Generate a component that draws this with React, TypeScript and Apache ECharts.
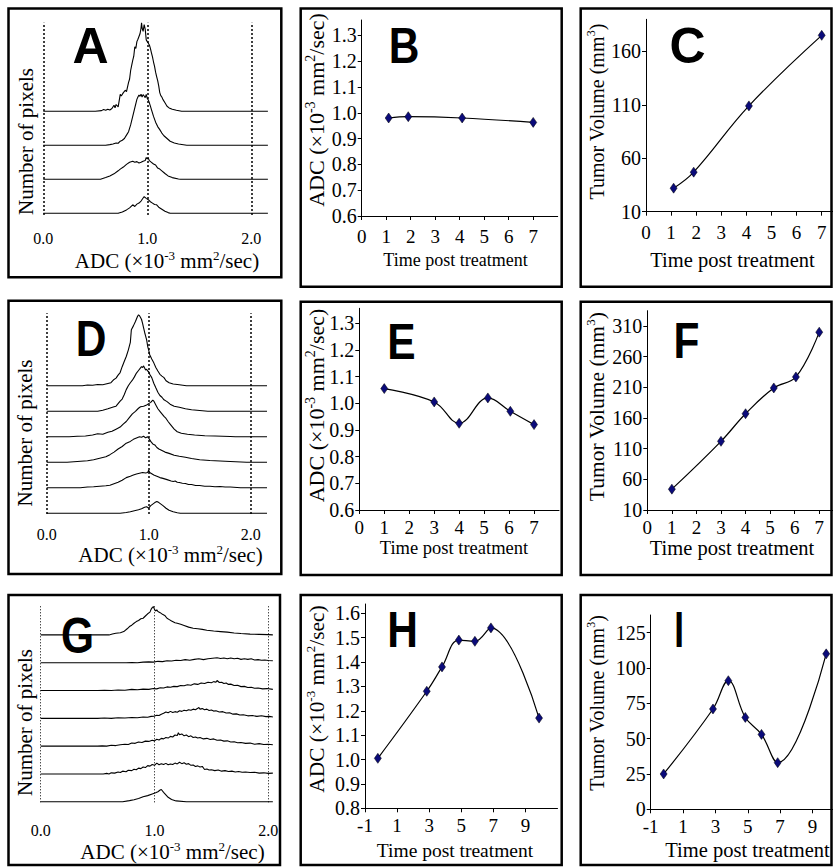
import React, { useEffect, useRef } from 'react';
import * as echarts from 'echarts';

const FONT = 'Liberation Serif';

// ---------- Histogram traces (x = ADC, h = relative pixel count), listed bottom → top ----------
const traceA1 = [[0,0],[0.72,0],[0.76,0.04],[0.8,0.1],[0.83,0.16],[0.86,0.25],[0.88,0.2],[0.9,0.27],[0.92,0.3],[0.94,0.36],[0.96,0.45],[0.97,0.49],[0.99,0.44],[1.01,0.4],[1.03,0.34],[1.05,0.3],[1.07,0.26],[1.09,0.25],[1.11,0.18],[1.14,0.12],[1.17,0.06],[1.2,0.02],[1.22,0],[2.16,0]];
const traceA2 = [[0,0],[0.55,0],[0.6,0.05],[0.64,0.1],[0.68,0.16],[0.72,0.25],[0.74,0.3],[0.77,0.36],[0.8,0.44],[0.83,0.5],[0.86,0.53],[0.88,0.5],[0.9,0.52],[0.92,0.48],[0.94,0.5],[0.96,0.53],[0.98,0.55],[0.99,0.64],[1.0,0.6],[1.01,0.62],[1.02,0.55],[1.04,0.5],[1.06,0.45],[1.08,0.42],[1.1,0.33],[1.12,0.3],[1.14,0.25],[1.17,0.17],[1.2,0.1],[1.24,0.05],[1.3,0.01],[1.32,0],[2.16,0]];
const traceA3 = [[0,0],[0.6,0],[0.64,0.02],[0.67,0.04],[0.7,0.07],[0.72,0.06],[0.74,0.12],[0.76,0.15],[0.78,0.2],[0.8,0.3],[0.82,0.4],[0.84,0.6],[0.86,0.85],[0.88,1.1],[0.9,1.35],[0.91,1.42],[0.92,1.48],[0.93,1.44],[0.94,1.5],[0.95,1.42],[0.96,1.49],[0.97,1.45],[0.98,1.4],[0.99,1.5],[1.0,1.38],[1.01,1.33],[1.02,1.25],[1.03,1.15],[1.04,1.05],[1.06,0.85],[1.08,0.68],[1.1,0.55],[1.12,0.46],[1.14,0.36],[1.16,0.28],[1.19,0.2],[1.22,0.12],[1.26,0.07],[1.3,0.04],[1.38,0],[2.16,0]];
const traceA4 = [[0,0],[0.5,0],[0.56,0.02],[0.58,0.05],[0.6,0.03],[0.62,0.06],[0.64,0.04],[0.66,0.08],[0.68,0.18],[0.69,0.1],[0.7,0.2],[0.72,0.13],[0.74,0.5],[0.75,0.45],[0.77,0.55],[0.79,0.62],[0.8,0.58],[0.82,0.85],[0.83,0.95],[0.84,1.2],[0.85,1.35],[0.86,1.5],[0.87,1.62],[0.88,1.9],[0.89,1.85],[0.9,2.05],[0.91,2.12],[0.92,2.2],[0.93,2.28],[0.94,2.45],[0.945,2.6],[0.95,2.45],[0.96,2.35],[0.97,2.55],[0.98,2.42],[0.99,2.1],[1.0,2.05],[1.01,2.0],[1.02,1.95],[1.03,1.85],[1.04,1.72],[1.05,1.6],[1.06,1.45],[1.07,1.32],[1.08,1.15],[1.09,1.02],[1.1,0.9],[1.11,0.75],[1.12,0.55],[1.13,0.46],[1.14,0.42],[1.15,0.35],[1.17,0.25],[1.19,0.15],[1.21,0.1],[1.24,0.06],[1.28,0.03],[1.33,0],[2.16,0]];

const traceD1 = [[0,0],[0.72,0],[0.78,0.03],[0.82,0.06],[0.86,0.1],[0.9,0.14],[0.93,0.18],[0.96,0.24],[0.98,0.26],[1.0,0.2],[1.02,0.3],[1.04,0.36],[1.06,0.42],[1.08,0.46],[1.1,0.42],[1.12,0.36],[1.14,0.3],[1.17,0.2],[1.2,0.12],[1.24,0.06],[1.28,0.02],[1.31,0],[2.16,0]];
const traceD2 = [[0,0],[0.33,0],[0.4,0.03],[0.46,0.04],[0.52,0.06],[0.58,0.08],[0.62,0.1],[0.66,0.16],[0.7,0.22],[0.74,0.3],[0.78,0.4],[0.82,0.45],[0.85,0.5],[0.88,0.54],[0.91,0.57],[0.94,0.6],[0.97,0.58],[0.99,0.6],[1.0,0.69],[1.01,0.6],[1.03,0.55],[1.05,0.5],[1.08,0.45],[1.11,0.4],[1.14,0.37],[1.18,0.32],[1.22,0.27],[1.24,0.25],[1.26,0.27],[1.28,0.22],[1.3,0.21],[1.33,0.18],[1.36,0.17],[1.39,0.13],[1.42,0.13],[1.46,0.09],[1.5,0.09],[1.55,0.06],[1.6,0.06],[1.65,0.04],[1.7,0.05],[1.75,0.03],[1.8,0.03],[1.9,0],[2.16,0]];
const traceD3 = [[0,0],[0.2,0],[0.3,0.03],[0.4,0.06],[0.46,0.1],[0.52,0.16],[0.58,0.22],[0.62,0.3],[0.66,0.4],[0.7,0.52],[0.74,0.62],[0.78,0.75],[0.82,0.82],[0.85,0.9],[0.88,0.95],[0.91,1.0],[0.93,0.98],[0.95,1.02],[0.97,0.96],[0.99,1.0],[1.0,0.95],[1.02,0.82],[1.04,0.72],[1.06,0.68],[1.08,0.58],[1.1,0.52],[1.13,0.46],[1.16,0.4],[1.2,0.35],[1.25,0.28],[1.3,0.24],[1.36,0.2],[1.42,0.15],[1.5,0.1],[1.6,0.07],[1.7,0.05],[1.8,0.03],[1.96,0],[2.16,0]];
const traceD4 = [[0,0],[0.22,0],[0.3,0.02],[0.38,0.03],[0.45,0.07],[0.5,0.12],[0.55,0.1],[0.6,0.18],[0.64,0.22],[0.68,0.3],[0.72,0.38],[0.75,0.5],[0.78,0.6],[0.81,0.75],[0.84,0.9],[0.87,1.0],[0.9,1.12],[0.92,1.18],[0.95,1.2],[0.98,1.25],[1.0,1.3],[1.02,1.35],[1.04,1.44],[1.05,1.4],[1.07,1.25],[1.09,1.1],[1.11,1.0],[1.13,0.9],[1.15,0.8],[1.17,0.72],[1.19,0.6],[1.21,0.5],[1.23,0.4],[1.25,0.3],[1.28,0.2],[1.32,0.14],[1.38,0.1],[1.45,0.07],[1.55,0.04],[1.65,0.03],[1.8,0.01],[1.85,0],[2.16,0]];
const traceD5 = [[0,0],[0.5,0],[0.55,0.04],[0.6,0.1],[0.63,0.14],[0.66,0.18],[0.68,0.2],[0.7,0.3],[0.72,0.4],[0.74,0.48],[0.76,0.65],[0.78,0.85],[0.8,1.0],[0.82,1.12],[0.84,1.22],[0.86,1.35],[0.88,1.5],[0.9,1.6],[0.92,1.7],[0.93,1.75],[0.94,1.72],[0.95,1.78],[0.96,1.7],[0.97,1.62],[0.98,1.65],[0.99,1.58],[1.0,1.55],[1.01,1.45],[1.03,1.32],[1.05,1.1],[1.07,0.92],[1.09,0.75],[1.11,0.62],[1.13,0.55],[1.15,0.45],[1.18,0.38],[1.21,0.28],[1.25,0.2],[1.3,0.16],[1.36,0.1],[1.42,0.06],[1.5,0.03],[1.58,0],[2.16,0]];
const traceD6 = [[0,0],[0.35,0],[0.4,0.03],[0.45,0.02],[0.5,0.05],[0.55,0.04],[0.6,0.09],[0.63,0.12],[0.66,0.25],[0.68,0.3],[0.7,0.42],[0.72,0.52],[0.74,0.75],[0.76,0.95],[0.78,1.15],[0.8,1.4],[0.82,1.7],[0.83,2.2],[0.85,2.35],[0.87,2.52],[0.88,2.62],[0.89,2.72],[0.9,2.78],[0.91,2.75],[0.92,2.68],[0.93,2.6],[0.94,2.45],[0.95,2.27],[0.96,2.1],[0.97,1.95],[0.98,1.8],[0.99,1.55],[1.0,1.4],[1.01,1.22],[1.03,1.05],[1.05,0.9],[1.07,0.72],[1.09,0.58],[1.11,0.45],[1.13,0.38],[1.15,0.32],[1.17,0.2],[1.2,0.12],[1.24,0.07],[1.3,0.04],[1.37,0],[2.16,0]];

const traceG1 = [[0,0],[0.72,0],[0.78,0.04],[0.82,0.07],[0.86,0.12],[0.9,0.18],[0.94,0.22],[0.98,0.28],[1.01,0.32],[1.03,0.36],[1.05,0.42],[1.06,0.44],[1.08,0.34],[1.1,0.25],[1.12,0.16],[1.15,0.08],[1.19,0.03],[1.28,0],[2.04,0]];
const traceG2 = [[0,0],[0.55,0],[0.58,0.02],[0.6,0.0],[0.62,0.04],[0.65,0.03],[0.68,0.07],[0.7,0.05],[0.72,0.1],[0.75,0.08],[0.77,0.13],[0.8,0.12],[0.82,0.17],[0.84,0.15],[0.86,0.21],[0.88,0.19],[0.9,0.25],[0.92,0.23],[0.94,0.3],[0.96,0.28],[0.98,0.34],[1.0,0.31],[1.02,0.39],[1.04,0.33],[1.06,0.37],[1.08,0.34],[1.1,0.38],[1.12,0.33],[1.14,0.36],[1.16,0.34],[1.18,0.39],[1.2,0.36],[1.22,0.42],[1.24,0.37],[1.26,0.4],[1.28,0.35],[1.3,0.37],[1.32,0.31],[1.34,0.32],[1.36,0.27],[1.38,0.29],[1.4,0.25],[1.42,0.27],[1.44,0.16],[1.46,0.18],[1.48,0.14],[1.5,0.15],[1.53,0.12],[1.56,0.14],[1.59,0.1],[1.62,0.12],[1.65,0.09],[1.68,0.1],[1.71,0.07],[1.74,0.09],[1.77,0.06],[1.8,0.07],[1.84,0.05],[1.88,0.06],[1.92,0.03],[1.96,0.04],[2.0,0.02],[2.04,0.03]];
const traceG3 = [[0,0],[0.5,0],[0.54,0.01],[0.58,0.0],[0.62,0.03],[0.66,0.02],[0.7,0.05],[0.74,0.07],[0.77,0.06],[0.8,0.11],[0.83,0.1],[0.86,0.15],[0.89,0.13],[0.92,0.18],[0.95,0.17],[0.98,0.21],[1.0,0.19],[1.02,0.25],[1.04,0.22],[1.06,0.28],[1.08,0.26],[1.1,0.31],[1.12,0.29],[1.14,0.35],[1.16,0.33],[1.18,0.4],[1.2,0.38],[1.21,0.48],[1.22,0.41],[1.24,0.44],[1.26,0.37],[1.28,0.4],[1.3,0.34],[1.32,0.37],[1.34,0.31],[1.36,0.33],[1.38,0.29],[1.4,0.31],[1.43,0.26],[1.46,0.28],[1.49,0.24],[1.52,0.26],[1.55,0.21],[1.58,0.22],[1.61,0.18],[1.64,0.19],[1.67,0.15],[1.7,0.16],[1.73,0.12],[1.76,0.13],[1.8,0.1],[1.84,0.11],[1.88,0.07],[1.92,0.09],[1.96,0.06],[2.0,0.07],[2.04,0.05]];
const traceG4 = [[0,0],[0.5,0],[0.56,0.01],[0.62,0.0],[0.68,0.02],[0.74,0.01],[0.8,0.03],[0.85,0.02],[0.9,0.05],[0.94,0.04],[0.97,0.07],[1.0,0.08],[1.02,0.11],[1.04,0.1],[1.06,0.15],[1.08,0.18],[1.1,0.23],[1.12,0.2],[1.14,0.25],[1.16,0.21],[1.18,0.24],[1.2,0.22],[1.22,0.27],[1.24,0.25],[1.26,0.29],[1.28,0.27],[1.3,0.31],[1.32,0.29],[1.34,0.33],[1.36,0.31],[1.38,0.36],[1.39,0.39],[1.4,0.33],[1.42,0.35],[1.44,0.31],[1.46,0.33],[1.48,0.28],[1.5,0.3],[1.52,0.26],[1.54,0.27],[1.57,0.23],[1.6,0.24],[1.63,0.19],[1.66,0.2],[1.69,0.15],[1.72,0.16],[1.75,0.12],[1.78,0.13],[1.82,0.09],[1.86,0.1],[1.9,0.07],[1.94,0.09],[1.98,0.06],[2.01,0.07],[2.04,0.05]];
const traceG5 = [[0,0],[0.5,0],[0.56,0.01],[0.62,0.0],[0.68,0.02],[0.74,0.01],[0.8,0.04],[0.85,0.03],[0.9,0.05],[0.95,0.04],[0.99,0.07],[1.02,0.06],[1.05,0.1],[1.08,0.09],[1.11,0.13],[1.14,0.12],[1.17,0.15],[1.2,0.14],[1.23,0.18],[1.26,0.17],[1.29,0.21],[1.32,0.19],[1.35,0.24],[1.38,0.22],[1.41,0.27],[1.44,0.25],[1.47,0.3],[1.5,0.28],[1.52,0.32],[1.54,0.3],[1.55,0.36],[1.57,0.29],[1.59,0.3],[1.61,0.25],[1.63,0.27],[1.65,0.22],[1.67,0.23],[1.7,0.18],[1.73,0.19],[1.76,0.14],[1.79,0.15],[1.82,0.11],[1.85,0.12],[1.88,0.08],[1.91,0.09],[1.95,0.06],[1.99,0.07],[2.04,0.04]];
const traceG6 = [[0,0],[0.75,0],[0.8,0.01],[0.85,0.0],[0.9,0.02],[0.95,0.03],[0.99,0.02],[1.03,0.05],[1.07,0.04],[1.11,0.07],[1.15,0.06],[1.19,0.09],[1.23,0.08],[1.27,0.11],[1.31,0.09],[1.35,0.12],[1.39,0.14],[1.43,0.11],[1.47,0.14],[1.51,0.16],[1.55,0.18],[1.58,0.15],[1.61,0.17],[1.64,0.14],[1.67,0.17],[1.7,0.14],[1.73,0.16],[1.76,0.12],[1.79,0.14],[1.82,0.12],[1.85,0.14],[1.88,0.1],[1.91,0.11],[1.94,0.09],[1.97,0.1],[2.0,0.08],[2.04,0.07]];
const traceG7 = [[0,0],[0.6,0],[0.63,0.03],[0.66,0.06],[0.7,0.08],[0.73,0.12],[0.76,0.22],[0.78,0.3],[0.8,0.35],[0.82,0.42],[0.84,0.48],[0.86,0.52],[0.88,0.58],[0.9,0.6],[0.92,0.68],[0.94,0.76],[0.96,0.82],[0.97,0.92],[0.98,0.98],[0.99,1.02],[1.0,0.92],[1.01,0.86],[1.02,0.9],[1.03,0.84],[1.05,0.8],[1.07,0.74],[1.09,0.7],[1.11,0.6],[1.13,0.55],[1.15,0.5],[1.18,0.44],[1.2,0.42],[1.23,0.38],[1.26,0.34],[1.3,0.28],[1.34,0.24],[1.38,0.22],[1.42,0.2],[1.46,0.17],[1.52,0.14],[1.58,0.12],[1.64,0.1],[1.7,0.07],[1.76,0.05],[1.84,0.03],[1.92,0.02],[2.0,0.01],[2.04,0]];

const histTicks = [0, 1, 2];

// ---------- Time-course data ----------
const daysBC = [1.1, 1.9, 4.1, 7.0];
const adcB = [0.98, 0.985, 0.98, 0.963];
const volC = [32, 47, 109, 175];

const daysEF = [1, 3, 4, 5.15, 6.05, 7];
const adcE = [1.055, 1.005, 0.925, 1.02, 0.97, 0.92];
const volF = [44, 122, 167, 209, 227, 300];

const daysHI = [-0.2, 2.85, 3.8, 4.85, 5.85, 6.85, 9.85];
const adcH = [1.005, 1.28, 1.38, 1.49, 1.485, 1.54, 1.17];
const volI = [25, 71, 91, 65, 53, 33, 110];

const xTicks07 = [0, 1, 2, 3, 4, 5, 6, 7];
const xTicksOdd = [-1, 1, 3, 5, 7, 9];
const yTicksB = [0.6, 0.7, 0.8, 0.9, 1.0, 1.1, 1.2, 1.3];
const yTicksC = [10, 60, 110, 160];
const yTicksF = [10, 60, 110, 160, 210, 260, 310];
const yTicksH = [0.8, 0.9, 1.0, 1.1, 1.2, 1.3, 1.4, 1.5, 1.6];
const yTicksI = [0, 25, 50, 75, 100, 125];

const ADC_TITLE = '{n|ADC (×10}{s|-3}{n| mm}{s|2}{n|/sec)}';
const VOL_TITLE = '{n|Tumor Volume (mm}{s|3}{n|)}';

function richStyle(fs: number) {
  return {
    n: { fontSize: fs, fontFamily: FONT, fill: '#000', color: '#000', lineHeight: Math.round(fs * 1.2) },
    s: { fontSize: Math.round(fs * 0.62), fontFamily: FONT, fill: '#000', color: '#000', verticalAlign: 'top' },
  };
}

function richText(text: string, x: number, y: number, fs: number, rotate = false) {
  return {
    type: 'text', x, y, rotation: rotate ? Math.PI / 2 : 0, z: 20, silent: true,
    style: { text, rich: richStyle(fs), align: 'center', verticalAlign: 'middle', fill: '#000' },
  };
}
function plainText(text: string, x: number, y: number, fs: number, rotate = false) {
  return richText('{n|' + text + '}', x, y, fs, rotate);
}
function letter(text: string, x: number, y: number, sx = 0.85) {
  return {
    type: 'text', x, y, scaleX: sx, z: 30, silent: true,
    style: { text: '{b|' + text + '}', rich: { b: { fontSize: 50, fontFamily: 'Liberation Sans', fontWeight: 'bold', fill: '#000', color: '#000' } }, align: 'center', verticalAlign: 'middle' },
  };
}
function frame(x1: number, y1: number, x2: number, y2: number) {
  return { type: 'rect', z: 5, silent: true, shape: { x: x1, y: y1, width: x2 - x1, height: y2 - y1 }, style: { fill: 'none', stroke: '#000', lineWidth: 2.5 } };
}

function tickLabel(fs: number, margin: number, values: number[], fmt: (v: number) => string) {
  return {
    customValues: values, margin, color: '#000', fontSize: fs, fontFamily: FONT,
    formatter: (v: number) => '{t|' + fmt(v) + '}',
    rich: { t: { fontSize: fs, fontFamily: FONT, color: '#000' } },
  };
}

const grids: any[] = [];
const xAxes: any[] = [];
const yAxes: any[] = [];
const series: any[] = [];

function addHist(cfg: any) {
  const i = grids.length;
  grids.push({ left: cfg.left, top: cfg.top, width: cfg.width, height: cfg.height, containLabel: false, outerBoundsMode: 'none' });
  xAxes.push({
    type: 'value', gridIndex: i, min: 0, max: cfg.xmax,
    axisLine: { show: false }, axisTick: { show: false }, splitLine: { show: false },
    axisLabel: tickLabel(16, cfg.margin, histTicks, (v) => v.toFixed(1)),
  });
  yAxes.push({ type: 'value', gridIndex: i, min: cfg.ymin, max: cfg.ymax, show: false });
  cfg.traces.forEach((tr: number[][], k: number) => {
    const s: any = {
      type: 'line', xAxisIndex: i, yAxisIndex: i, silent: true, clip: false,
      symbol: 'none', showSymbol: false,
      lineStyle: { color: '#000', width: 1.1 },
      data: tr.map(([x, h]) => [x, h + k]),
    };
    if (k === 0) {
      s.markLine = {
        silent: true, symbol: ['none', 'none'], label: { show: false },
        lineStyle: { type: cfg.dash, color: '#000', width: cfg.dashWidth },
        data: histTicks.map((v) => ({ xAxis: v })),
      };
    }
    series.push(s);
  });
}

function addLine(cfg: any) {
  const i = grids.length;
  grids.push({ left: cfg.left, top: cfg.top, width: cfg.width, height: cfg.height, containLabel: false, outerBoundsMode: 'none' });
  const axisLine = { show: true, onZero: false, lineStyle: { color: '#000', width: 1 } };
  xAxes.push({
    type: 'value', gridIndex: i, min: cfg.xmin, max: cfg.xmax, interval: cfg.xint,
    axisLine, splitLine: { show: false },
    axisTick: { show: true, length: 4, customValues: cfg.xticks, lineStyle: { color: '#000' } },
    axisLabel: tickLabel(19, cfg.xmargin, cfg.xticks, (v) => String(v)),
  });
  yAxes.push({
    type: 'value', gridIndex: i, min: cfg.ymin, max: cfg.ymax,
    axisLine, splitLine: { show: false },
    axisTick: { show: true, length: 4, customValues: cfg.yticks, lineStyle: { color: '#000' } },
    axisLabel: tickLabel(20, 5, cfg.yticks, cfg.yfmt),
  });
  series.push({
    type: 'line', xAxisIndex: i, yAxisIndex: i, silent: true,
    data: cfg.days.map((d: number, j: number) => [d, cfg.vals[j]]),
    smooth: 0.4, symbol: 'diamond', symbolSize: [7, 10], showAllSymbol: true,
    itemStyle: { color: '#0b0b7a', borderColor: '#000', borderWidth: 0.5 },
    lineStyle: { color: '#000', width: 1.2 },
  });
}

const f1 = (v: number) => v.toFixed(1);
const f0 = (v: number) => String(Math.round(v));

// Row 1
addHist({ left: 43.3, top: 22.7, width: 224.6, height: 192.3, xmax: 2.16, ymin: -0.05, ymax: 5.606, margin: 15, dash: [2, 2], dashWidth: 1.5, traces: [traceA1, traceA2, traceA3, traceA4] });
addLine({ left: 361.7, top: 20, width: 196, height: 196, xmin: 0, xmax: 8, xint: 1, xticks: xTicks07, xmargin: 11, ymin: 0.6, ymax: 1.36, yticks: yTicksB, yfmt: f1, days: daysBC, vals: adcB });
addLine({ left: 646, top: 19.3, width: 187, height: 192.4, xmin: 0, xmax: 7.45, xint: 1, xticks: xTicks07, xmargin: 11, ymin: 10, ymax: 190, yticks: yTicksC, yfmt: f0, days: daysBC, vals: volC });
// Row 2
addHist({ left: 46.7, top: 313.3, width: 220.3, height: 200.7, xmax: 2.16, ymin: -0.027, ymax: 7.843, margin: 12, dash: [2, 2], dashWidth: 1.5, traces: [traceD1, traceD2, traceD3, traceD4, traceD5, traceD6] });
addLine({ left: 359.3, top: 308.3, width: 199.7, height: 201.7, xmin: 0, xmax: 8, xint: 1, xticks: xTicks07, xmargin: 8, ymin: 0.6, ymax: 1.356, yticks: yTicksB, yfmt: f1, days: daysEF, vals: adcE });
addLine({ left: 647.3, top: 310.7, width: 185.7, height: 199.3, xmin: 0, xmax: 7.56, xint: 1, xticks: xTicks07, xmargin: 8, ymin: 10, ymax: 335, yticks: yTicksF, yfmt: f0, days: daysEF, vals: volF });
// Row 3
addHist({ left: 40.7, top: 606, width: 232.6, height: 196.3, xmax: 2.044, ymin: -0.02, ymax: 7.04, margin: 20, dash: [1, 2], dashWidth: 1, traces: [traceG1, traceG2, traceG3, traceG4, traceG5, traceG6, traceG7] });
addLine({ left: 365, top: 604, width: 192.5, height: 204.3, xmin: -1, xmax: 11, xint: 2, xticks: xTicksOdd, xmargin: 8, ymin: 0.8, ymax: 1.638, yticks: yTicksH, yfmt: f1, days: daysHI, vals: adcH });
addLine({ left: 650.7, top: 615, width: 182.3, height: 194.3, xmin: -1, xmax: 10.27, xint: 2, xticks: xTicksOdd, xmargin: 8, ymin: 0, ymax: 137.5, yticks: yTicksI, yfmt: f0, days: daysHI, vals: volI });

const graphics: any[] = [
  frame(8.5, 8.5, 281.3, 277.3), frame(300.7, 8.5, 561.7, 286.7), frame(580.7, 8.5, 831.5, 286.7),
  frame(8.5, 300.7, 281.3, 574), frame(300.7, 301.7, 561.7, 575), frame(580.7, 301.7, 831.5, 575),
  frame(8.5, 595, 280, 865), frame(300.7, 595, 561.7, 865), frame(580.7, 595, 831.5, 865),
  // histogram titles
  richText(ADC_TITLE, 167, 261, 21), plainText('Number of pixels', 26, 141.5, 21, true),
  richText(ADC_TITLE, 170.5, 555, 21), plainText('Number of pixels', 25, 433, 21, true),
  richText(ADC_TITLE, 172.5, 852, 21), plainText('Number of pixels', 25, 722.5, 21, true),
  // line panel titles
  plainText('Time post treatment', 455.5, 260, 18), richText(ADC_TITLE, 316.7, 110, 22, true),
  plainText('Time post treatment', 732.5, 260, 20.5), richText(VOL_TITLE, 596.7, 111.7, 20, true),
  plainText('Time post treatment', 454, 548, 18.5), richText(ADC_TITLE, 316.7, 405.5, 22, true),
  plainText('Time post treatment', 732, 548, 20.5), richText(VOL_TITLE, 596.7, 406.7, 21.5, true),
  plainText('Time post treatment', 455, 850, 19.5), richText(ADC_TITLE, 316.7, 699, 21.4, true),
  plainText('Time post treatment', 747.5, 850, 20.5), richText(VOL_TITLE, 596.7, 703, 20, true),
  // panel letters
  letter('A', 90.5, 46, 1), letter('B', 404, 46), letter('C', 687.5, 46, 1),
  letter('D', 91, 339), letter('E', 401.5, 341.5), letter('F', 686.5, 341),
  letter('G', 77.5, 636), letter('H', 402.5, 630), letter('I', 679, 630, 0.7),
];

export default function App() {
  const ref = useRef<HTMLDivElement>(null);
  useEffect(() => {
    if (!ref.current) return;
    const chart = echarts.init(ref.current, undefined, { renderer: 'svg' });
    chart.setOption({
      animation: false,
      backgroundColor: '#fff',
      textStyle: { fontFamily: FONT },
      grid: grids,
      xAxis: xAxes,
      yAxis: yAxes,
      series,
      graphic: graphics,
    });
    return () => chart.dispose();
  }, []);
  return <div ref={ref} style={{ position: 'fixed', left: 0, top: 0, width: 833, height: 867, background: '#fff' }} />;
}
